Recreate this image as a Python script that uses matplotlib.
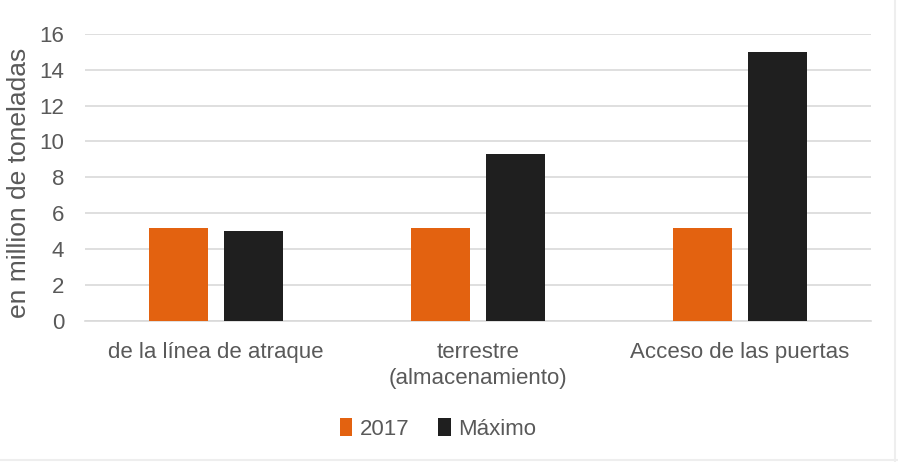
import matplotlib
matplotlib.use("Agg")
import matplotlib.pyplot as plt
import numpy as np
from matplotlib.patches import Patch
from matplotlib.lines import Line2D

categories = ["de la línea de atraque", "terrestre\n(almacenamiento)", "Acceso de las puertas"]
series_names = ["2017", "Máximo"]
values_2017 = [5.2, 5.2, 5.2]
values_max = [5.0, 9.3, 15.0]
yticks = [0, 2, 4, 6, 8, 10, 12, 14, 16]
ylabel = "en million de toneladas"

c_orange = "#E36210"
c_black = "#1F1F1F"
c_text = "#595959"
c_grid = "#D9D9D9"

plt.rcParams["font.family"] = ["Liberation Sans", "DejaVu Sans"]
plt.rcParams["font.size"] = 16

fig = plt.figure(figsize=(8.98, 4.62), dpi=100)
ax = fig.add_axes([85/898, 1-321/462, 786/898, (321-33.7)/462])

x = np.arange(len(categories))
w = 0.225
off = 0.143
ax.bar(x - off, values_2017, w, color=c_orange, zorder=3, label=series_names[0])
ax.bar(x + off, values_max, w, color=c_black, zorder=3, label=series_names[1])

ax.set_xlim(-0.5, len(categories) - 0.5)
ax.set_ylim(0, 16)
ax.set_yticks(yticks)
ax.set_yticklabels([str(t) for t in yticks])
ax.set_xticks(x)
ax.set_xticklabels(categories, linespacing=1.3)
ax.grid(axis="y", color=c_grid, linewidth=1.2, zorder=0)
ax.set_axisbelow(True)
for s in ["top", "right", "left"]:
    ax.spines[s].set_visible(False)
ax.spines["bottom"].set_color(c_grid)
ax.spines["bottom"].set_linewidth(1.2)
ax.tick_params(axis="both", length=0, colors=c_text, labelsize=16)
ax.tick_params(axis="y", pad=15)
ax.tick_params(axis="x", pad=15)

ax.set_ylabel(ylabel, color=c_text, fontsize=19)
ax.yaxis.set_label_coords(-0.0687, 0.48)

handles = [Patch(facecolor=c_orange), Patch(facecolor=c_black)]
leg = fig.legend(handles, series_names, loc="center", bbox_to_anchor=(0.488, 0.072),
                 ncol=2, frameon=False, handlelength=0.55, handleheight=0.85,
                 handletextpad=0.35, columnspacing=1.3, fontsize=16)
for t in leg.get_texts():
    t.set_color(c_text)

# faint outer border (bottom and right)
fig.add_artist(Line2D([0, 1], [0.004, 0.004], transform=fig.transFigure, color="#EEEEEE", lw=1.5))
fig.add_artist(Line2D([0.997, 0.997], [0, 1], transform=fig.transFigure, color="#EEEEEE", lw=1.5))

fig.savefig("out.png", dpi=100)
